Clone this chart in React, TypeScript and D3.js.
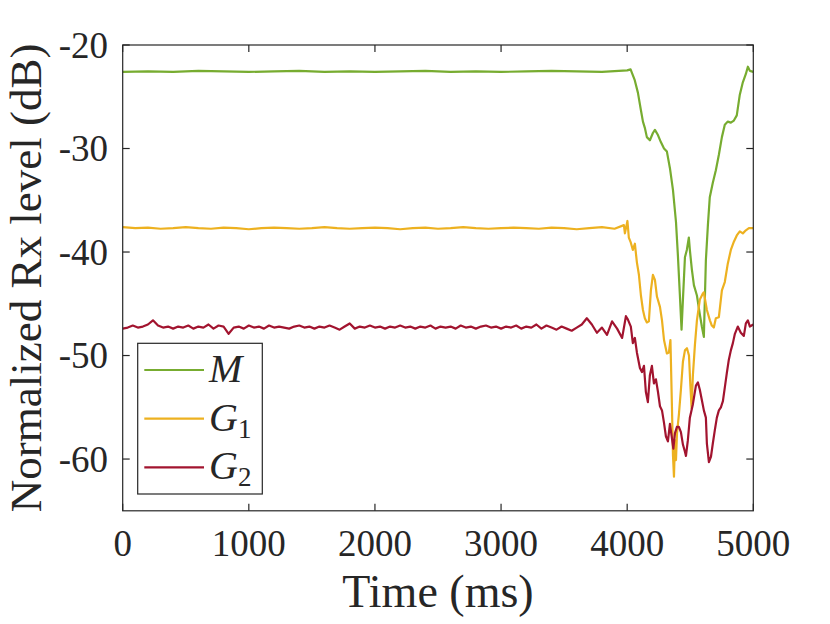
import * as React from 'react';
import * as d3 from 'd3';

const mFlatT = d3.range(0, 4001, 200);
const mFlatV = [-22.6, -22.55, -22.6, -22.5, -22.55, -22.6, -22.55, -22.5, -22.6, -22.55, -22.6,
  -22.55, -22.5, -22.6, -22.55, -22.6, -22.55, -22.5, -22.55, -22.6, -22.45];
const mDipT = [4027, 4060, 4085, 4109, 4125, 4140, 4156, 4180, 4204, 4220, 4244, 4268, 4292, 4315,
  4339, 4363, 4387, 4402, 4418, 4431, 4442, 4458, 4473, 4489, 4497, 4513, 4529, 4553, 4577, 4592,
  4608, 4624, 4640, 4655, 4679, 4703, 4727, 4751, 4774, 4798, 4822, 4846, 4869, 4893, 4917, 4941,
  4957, 4973, 5000];
const mDipV = [-22.35, -23.4, -24.6, -26.3, -27.4, -28.0, -28.9, -29.2, -28.5, -28.2, -28.7, -29.4,
  -30.0, -30.3, -31.9, -34.0, -37.1, -40.3, -44.2, -47.5, -44.6, -40.5, -39.8, -38.6, -39.8, -41.7,
  -43.2, -44.2, -46.1, -47.2, -48.2, -40.8, -37.4, -34.7, -33.3, -32.1, -30.6, -28.9, -27.7, -27.4,
  -27.5, -27.3, -26.8, -24.8, -23.6, -22.8, -22.1, -22.5, -22.6];

const g1FlatT = d3.range(0, 3901, 100);
const g1FlatV = [-37.6, -37.7, -37.65, -37.75, -37.7, -37.6, -37.7, -37.75, -37.65, -37.7,
  -37.8, -37.7, -37.65, -37.7, -37.75, -37.7, -37.6, -37.7, -37.75, -37.7,
  -37.65, -37.7, -37.8, -37.7, -37.65, -37.75, -37.7, -37.6, -37.7, -37.75,
  -37.7, -37.65, -37.7, -37.75, -37.65, -37.7, -37.8, -37.7, -37.6, -37.75];
const g1DipT = [3974, 3982, 4002, 4013, 4029, 4045, 4061, 4077, 4093, 4109, 4125, 4140, 4156, 4172,
  4188, 4204, 4220, 4236, 4260, 4276, 4292, 4315, 4331, 4343, 4355, 4363, 4371, 4379, 4387, 4395,
  4410, 4426, 4442, 4458, 4474, 4490, 4501, 4511, 4521, 4537, 4553, 4576, 4600, 4608, 4632, 4656,
  4671, 4687, 4703, 4727, 4751, 4774, 4798, 4822, 4846, 4869, 4893, 4917, 4941, 4965, 5000];
const g1DipV = [-37.4, -38.2, -37.0, -38.6, -39.1, -39.8, -39.2, -41.0, -42.2, -44.2, -45.6, -46.4,
  -46.8, -46.7, -43.7, -42.2, -42.7, -44.3, -45.3, -46.6, -48.5, -49.8, -49.7, -48.5, -55.0, -59.6,
  -61.7, -58.2, -60.1, -57.5, -55.7, -53.3, -50.6, -49.5, -49.3, -50.0, -52.9, -55.1, -51.9, -49.0,
  -46.6, -44.6, -44.0, -43.9, -45.6, -46.6, -47.1, -47.3, -46.4, -46.3, -43.7, -42.9, -41.1, -39.8,
  -39.0, -38.4, -38.0, -38.2, -37.9, -37.7, -37.7];

const g2FlatT = d3.range(0, 3961, 40);
const g2FlatV = [-47.4, -47.3, -47.1, -47.3, -47.2, -47.0, -46.6, -47.1, -47.3, -47.2,
  -47.4, -47.2, -47.3, -47.1, -47.4, -47.2, -47.3, -47.0, -47.4, -47.1,
  -47.2, -47.9, -47.3, -47.2, -47.4, -47.1, -47.3, -47.2, -47.4, -47.1,
  -47.3, -47.2, -47.3, -47.4, -47.2, -47.1, -47.3, -47.2, -47.4, -47.2,
  -47.3, -47.1, -47.3, -47.5, -47.2, -46.9, -47.4, -47.2, -47.3, -47.1,
  -47.3, -47.2, -47.4, -47.2, -47.3, -47.1, -47.3, -47.2, -47.4, -47.2,
  -47.3, -47.1, -47.4, -47.2, -47.3, -47.2, -47.4, -47.1, -47.3, -47.2,
  -47.4, -47.2, -47.1, -47.3, -47.2, -47.4, -47.2, -47.3, -47.1, -47.4,
  -47.2, -47.3, -47.0, -47.4, -47.1, -47.3, -47.5, -47.2, -47.4, -47.6,
  -47.3, -47.0, -46.4, -47.0, -47.8, -47.3, -48.0, -46.7, -47.4, -48.3];
const g2DipT = [3990, 4005, 4029, 4045, 4061, 4077, 4101, 4117, 4133, 4148, 4164, 4180, 4196, 4212,
  4228, 4244, 4260, 4276, 4292, 4307, 4323, 4339, 4355, 4366, 4379, 4394, 4410, 4426, 4442, 4458,
  4466, 4481, 4497, 4521, 4545, 4561, 4576, 4592, 4608, 4624, 4632, 4648, 4664, 4679, 4695, 4711,
  4727, 4743, 4759, 4774, 4790, 4806, 4822, 4838, 4854, 4877, 4901, 4925, 4941, 4957, 4973, 5000];
const g2DipV = [-46.2, -46.5, -47.2, -48.8, -48.3, -49.7, -51.2, -51.6, -51.0, -53.5, -54.5, -51.9,
  -51.0, -52.7, -52.3, -53.5, -54.9, -55.3, -56.5, -57.8, -58.3, -56.6, -58.0, -59.0, -57.5, -56.9,
  -56.9, -57.4, -58.6, -59.3, -59.7, -58.2, -56.0, -54.7, -52.9, -52.6, -53.3, -54.3, -55.3, -56.0,
  -58.5, -60.3, -59.8, -58.5, -57.2, -56.0, -55.3, -55.0, -54.4, -53.1, -51.7, -50.4, -49.5, -48.8,
  -47.9, -47.2, -47.8, -48.1, -46.9, -46.6, -47.2, -47.0];

const xTicks = [0, 1000, 2000, 3000, 4000, 5000];
const yTicks = [-60, -50, -40, -30, -20];

const seriesNames = ['M', 'G', 'G'];
const seriesSubs = ['', '1', '2'];
const seriesColors = ['#77AC30', '#EDB120', '#A2142F'];

type Pt = [number, number];
const zip = (t: number[], v: number[]): Pt[] => t.map((d, i) => [d, v[i]] as Pt);

const series: Pt[][] = [
  zip(mFlatT.concat(mDipT), mFlatV.concat(mDipV)),
  zip(g1FlatT.concat(g1DipT), g1FlatV.concat(g1DipV)),
  zip(g2FlatT.concat(g2DipT), g2FlatV.concat(g2DipV)),
];

const AXIS = '#262626';
const FONT = '"Liberation Serif", "Times New Roman", serif';

class RxChart extends React.Component {

  // tslint:disable-next-line:no-any
  svgRef: React.RefObject<any>;

  constructor(props: {}) {
    super(props);
    this.svgRef = React.createRef();
  }

  componentDidMount() {
    const width = 830, height = 624;
    const left = 122.7, right = 753.3, top = 45, bottom = 510.8;

    const svg = d3.select(this.svgRef.current)
      .attr('width', width)
      .attr('height', height);
    svg.selectAll('*').remove();

    const x = d3.scaleLinear().domain([0, 5000]).range([left, right]);
    const y = d3.scaleLinear().domain([-65, -20]).range([bottom, top]);

    svg.append('rect')
      .attr('width', width).attr('height', height).attr('fill', '#fff');

    svg.append('clipPath').attr('id', 'plot-clip')
      .append('rect')
      .attr('x', left).attr('y', top)
      .attr('width', right - left).attr('height', bottom - top);

    const line = d3.line<Pt>()
      .x(d => x(d[0]))
      .y(d => y(d[1]));

    const lines = svg.append('g').attr('clip-path', 'url(#plot-clip)');
    series.forEach((s, i) => {
      lines.append('path')
        .attr('d', line(s))
        .attr('fill', 'none')
        .attr('stroke', seriesColors[i])
        .attr('stroke-width', 2.2)
        .attr('stroke-linejoin', 'round');
    });

    // box and inward ticks on all four sides
    const frame = svg.append('g')
      .attr('stroke', AXIS).attr('stroke-width', 1.2).attr('fill', 'none');
    frame.append('rect')
      .attr('x', left).attr('y', top)
      .attr('width', right - left).attr('height', bottom - top);
    const tl = 7;
    xTicks.forEach(t => {
      frame.append('line').attr('x1', x(t)).attr('x2', x(t)).attr('y1', bottom).attr('y2', bottom - tl);
      frame.append('line').attr('x1', x(t)).attr('x2', x(t)).attr('y1', top).attr('y2', top + tl);
    });
    yTicks.forEach(t => {
      frame.append('line').attr('y1', y(t)).attr('y2', y(t)).attr('x1', left).attr('x2', left + tl);
      frame.append('line').attr('y1', y(t)).attr('y2', y(t)).attr('x1', right).attr('x2', right - tl);
    });

    const labels = svg.append('g')
      .attr('fill', AXIS)
      .style('font-family', FONT);

    labels.selectAll('.xt')
      .data(xTicks)
      .enter().append('text')
      .attr('class', 'xt')
      .attr('x', d => x(d))
      .attr('y', 556)
      .attr('text-anchor', 'middle')
      .style('font-size', '37px')
      .text(d => String(d));

    labels.selectAll('.yt')
      .data(yTicks)
      .enter().append('text')
      .attr('class', 'yt')
      .attr('x', 108)
      .attr('y', d => y(d))
      .attr('dy', '0.34em')
      .attr('text-anchor', 'end')
      .style('font-size', '37px')
      .text(d => String(d));

    labels.append('text')
      .attr('x', (left + right) / 2)
      .attr('y', 607)
      .attr('text-anchor', 'middle')
      .style('font-size', '46px')
      .text('Time (ms)');

    labels.append('text')
      .attr('transform', `translate(41, ${(top + bottom) / 2}) rotate(-90)`)
      .attr('text-anchor', 'middle')
      .style('font-size', '45px')
      .text('Normalized Rx level (dB)');

    // legend
    const lg = svg.append('g');
    lg.append('rect')
      .attr('x', 137.7).attr('y', 343.3)
      .attr('width', 124.6).attr('height', 150.7)
      .attr('fill', '#fff')
      .attr('stroke', AXIS).attr('stroke-width', 1.2);
    const rowY = [370, 418.7, 467.3];
    seriesNames.forEach((name, i) => {
      lg.append('line')
        .attr('x1', 144.3).attr('x2', 204)
        .attr('y1', rowY[i]).attr('y2', rowY[i])
        .attr('stroke', seriesColors[i]).attr('stroke-width', 2.2);
      const txt = lg.append('text')
        .attr('x', 209)
        .attr('y', rowY[i] + 12)
        .attr('fill', AXIS)
        .style('font-family', FONT)
        .style('font-size', '40px');
      txt.append('tspan').style('font-style', 'italic').text(name);
      if (seriesSubs[i]) {
        txt.append('tspan')
          .attr('dy', 7)
          .style('font-size', '27px')
          .text(seriesSubs[i]);
      }
    });
  }

  render() {
    return (
      <svg ref={this.svgRef} style={{ position: 'absolute', left: 0, top: 0 }} />
    );
  }

}

export default function App() {
  return <RxChart />;
}
